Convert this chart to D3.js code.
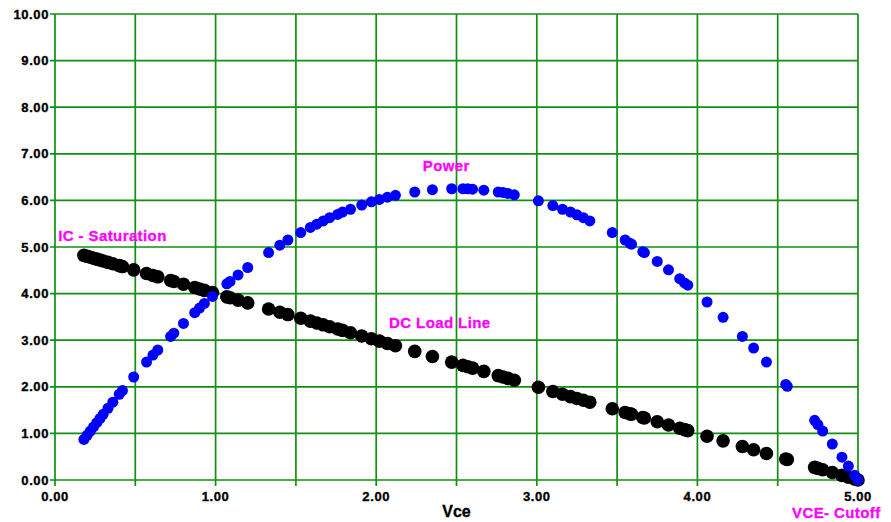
<!DOCTYPE html>
<html>
<head>
<meta charset="utf-8">
<script src="https://cdn.jsdelivr.net/npm/d3@7"></script>
<style>
  body { margin: 0; background: #fff; }
  svg text { font-family: "Liberation Sans", Arial, sans-serif; font-weight: bold; }
</style>
</head>
<body>
<svg id="chart" width="891" height="522"></svg>
<script>
// values
const vce = [0.18, 0.20, 0.22, 0.24, 0.26, 0.28, 0.30, 0.33, 0.36, 0.40, 0.42, 0.49, 0.57, 0.61, 0.64, 0.72, 0.74, 0.80, 0.87, 0.90,
  0.93, 0.98, 1.07, 1.09, 1.14, 1.20, 1.33, 1.40, 1.45, 1.53, 1.59, 1.63, 1.67, 1.71, 1.76, 1.79, 1.84, 1.91, 1.97, 2.02,
  2.07, 2.12, 2.24, 2.35, 2.47, 2.54, 2.57, 2.60, 2.67, 2.76, 2.79, 2.82, 2.86, 3.01, 3.10, 3.16, 3.21, 3.25, 3.29, 3.33,
  3.47, 3.55, 3.58, 3.59, 3.66, 3.67, 3.75, 3.82, 3.89, 3.92, 3.94, 4.06, 4.16, 4.28, 4.35, 4.43, 4.55, 4.56, 4.73, 4.75,
  4.78, 4.84, 4.90, 4.94, 4.98, 5.00];

const ic = [4.82, 4.80, 4.78, 4.76, 4.74, 4.72, 4.70, 4.67, 4.64, 4.60, 4.58, 4.51, 4.43, 4.39, 4.36, 4.28, 4.26, 4.20, 4.13, 4.10,
  4.07, 4.02, 3.93, 3.91, 3.86, 3.80, 3.67, 3.60, 3.55, 3.47, 3.41, 3.37, 3.33, 3.29, 3.24, 3.21, 3.16, 3.09, 3.03, 2.98,
  2.93, 2.88, 2.76, 2.65, 2.53, 2.46, 2.43, 2.40, 2.33, 2.24, 2.21, 2.18, 2.14, 1.99, 1.90, 1.84, 1.79, 1.75, 1.71, 1.67,
  1.53, 1.45, 1.42, 1.41, 1.34, 1.33, 1.25, 1.18, 1.11, 1.08, 1.06, 0.94, 0.84, 0.72, 0.65, 0.57, 0.45, 0.44, 0.27, 0.25,
  0.22, 0.16, 0.10, 0.06, 0.02, 0.00];

const power = [0.87, 0.96, 1.05, 1.14, 1.23, 1.32, 1.41, 1.54, 1.67, 1.84, 1.92, 2.21, 2.53, 2.68, 2.79, 3.08, 3.15, 3.36, 3.59, 3.69,
  3.79, 3.94, 4.21, 4.26, 4.40, 4.56, 4.88, 5.04, 5.15, 5.31, 5.42, 5.49, 5.56, 5.63, 5.70, 5.75, 5.81, 5.90, 5.97, 6.02,
  6.07, 6.11, 6.18, 6.23, 6.25, 6.25, 6.25, 6.24, 6.22, 6.18, 6.17, 6.15, 6.12, 5.99, 5.89, 5.81, 5.75, 5.69, 5.63, 5.56,
  5.31, 5.15, 5.08, 5.06, 4.90, 4.88, 4.69, 4.51, 4.32, 4.23, 4.18, 3.82, 3.49, 3.08, 2.83, 2.53, 2.05, 2.01, 1.28, 1.19,
  1.05, 0.77, 0.49, 0.30, 0.10, 0.00];

const xTicks = [0, 1, 2, 3, 4, 5];
const xGrid = [0, 0.5, 1, 1.5, 2, 2.5, 3, 3.5, 4, 4.5, 5];
const yTicks = [0, 1, 2, 3, 4, 5, 6, 7, 8, 9, 10];

const labels = [
  { text: "IC - Saturation", x: 0.02, y: 5.12 },
  { text: "Power", x: 2.29, y: 6.63 },
  { text: "DC Load Line", x: 2.08, y: 3.27 }
];

const margin = { top: 14, right: 33, bottom: 42, left: 55 };
const width = 891 - margin.left - margin.right;
const height = 522 - margin.top - margin.bottom;
const green = "#109010";

const svg = d3.select("#chart");
const g = svg.append("g").attr("transform", `translate(${margin.left},${margin.top})`);

const x = d3.scaleLinear().domain([0, 5]).range([0, width]);
const y = d3.scaleLinear().domain([0, 10]).range([height, 0]);

// grid
g.append("g")
  .selectAll("line")
  .data(xGrid)
  .enter()
  .append("line")
  .attr("x1", (d) => x(d))
  .attr("x2", (d) => x(d))
  .attr("y1", 0)
  .attr("y2", height + 6)
  .attr("stroke", green)
  .attr("stroke-width", 1.7);

g.append("g")
  .selectAll("line")
  .data(yTicks)
  .enter()
  .append("line")
  .attr("x1", -5)
  .attr("x2", width)
  .attr("y1", (d) => y(d))
  .attr("y2", (d) => y(d))
  .attr("stroke", green)
  .attr("stroke-width", 1.7);

// tick labels (slight stroke to get the heavy look of the original)
g.append("g")
  .selectAll("text")
  .data(yTicks)
  .enter()
  .append("text")
  .attr("x", -6)
  .attr("y", (d) => y(d))
  .attr("dy", "0.36em")
  .attr("text-anchor", "end")
  .attr("font-size", 13)
  .attr("letter-spacing", 0.6)
  .attr("stroke", "#000")
  .attr("stroke-width", 0.35)
  .text((d) => d3.format(".2f")(d));

g.append("g")
  .selectAll("text")
  .data(xTicks)
  .enter()
  .append("text")
  .attr("x", (d) => x(d))
  .attr("y", height + 21)
  .attr("text-anchor", "middle")
  .attr("font-size", 13)
  .attr("letter-spacing", 0.6)
  .attr("stroke", "#000")
  .attr("stroke-width", 0.35)
  .text((d) => d3.format(".2f")(d));

// axis title
g.append("text")
  .attr("x", width / 2)
  .attr("y", height + 37)
  .attr("text-anchor", "middle")
  .attr("font-size", 16)
  .attr("stroke", "#000")
  .attr("stroke-width", 0.35)
  .text("Vce");

const pts = vce.map((v, i) => ({ v, ic: ic[i], p: power[i] }));

// DC load line (black), then power (blue) on top
g.append("g")
  .selectAll("circle")
  .data(pts)
  .enter()
  .append("circle")
  .attr("cx", (d) => x(d.v))
  .attr("cy", (d) => y(d.ic))
  .attr("r", 6.8)
  .attr("fill", "#000");

g.append("g")
  .selectAll("circle")
  .data(pts)
  .enter()
  .append("circle")
  .attr("cx", (d) => x(d.v))
  .attr("cy", (d) => y(d.p))
  .attr("r", 5.5)
  .attr("fill", "#0000ff");

// annotations
g.append("g")
  .selectAll("text")
  .data(labels)
  .enter()
  .append("text")
  .attr("x", (d) => x(d.x))
  .attr("y", (d) => y(d.y))
  .attr("font-size", 15)
  .attr("letter-spacing", 0.4)
  .attr("fill", "#ff00ff")
  .attr("stroke", "#ff00ff")
  .attr("stroke-width", 0.3)
  .text((d) => d.text);

svg.append("text")
  .attr("x", 792)
  .attr("y", 518)
  .attr("font-size", 15)
  .attr("letter-spacing", 0.4)
  .attr("fill", "#ff00ff")
  .attr("stroke", "#ff00ff")
  .attr("stroke-width", 0.3)
  .text("VCE- Cutoff");
</script>
</body>
</html>
